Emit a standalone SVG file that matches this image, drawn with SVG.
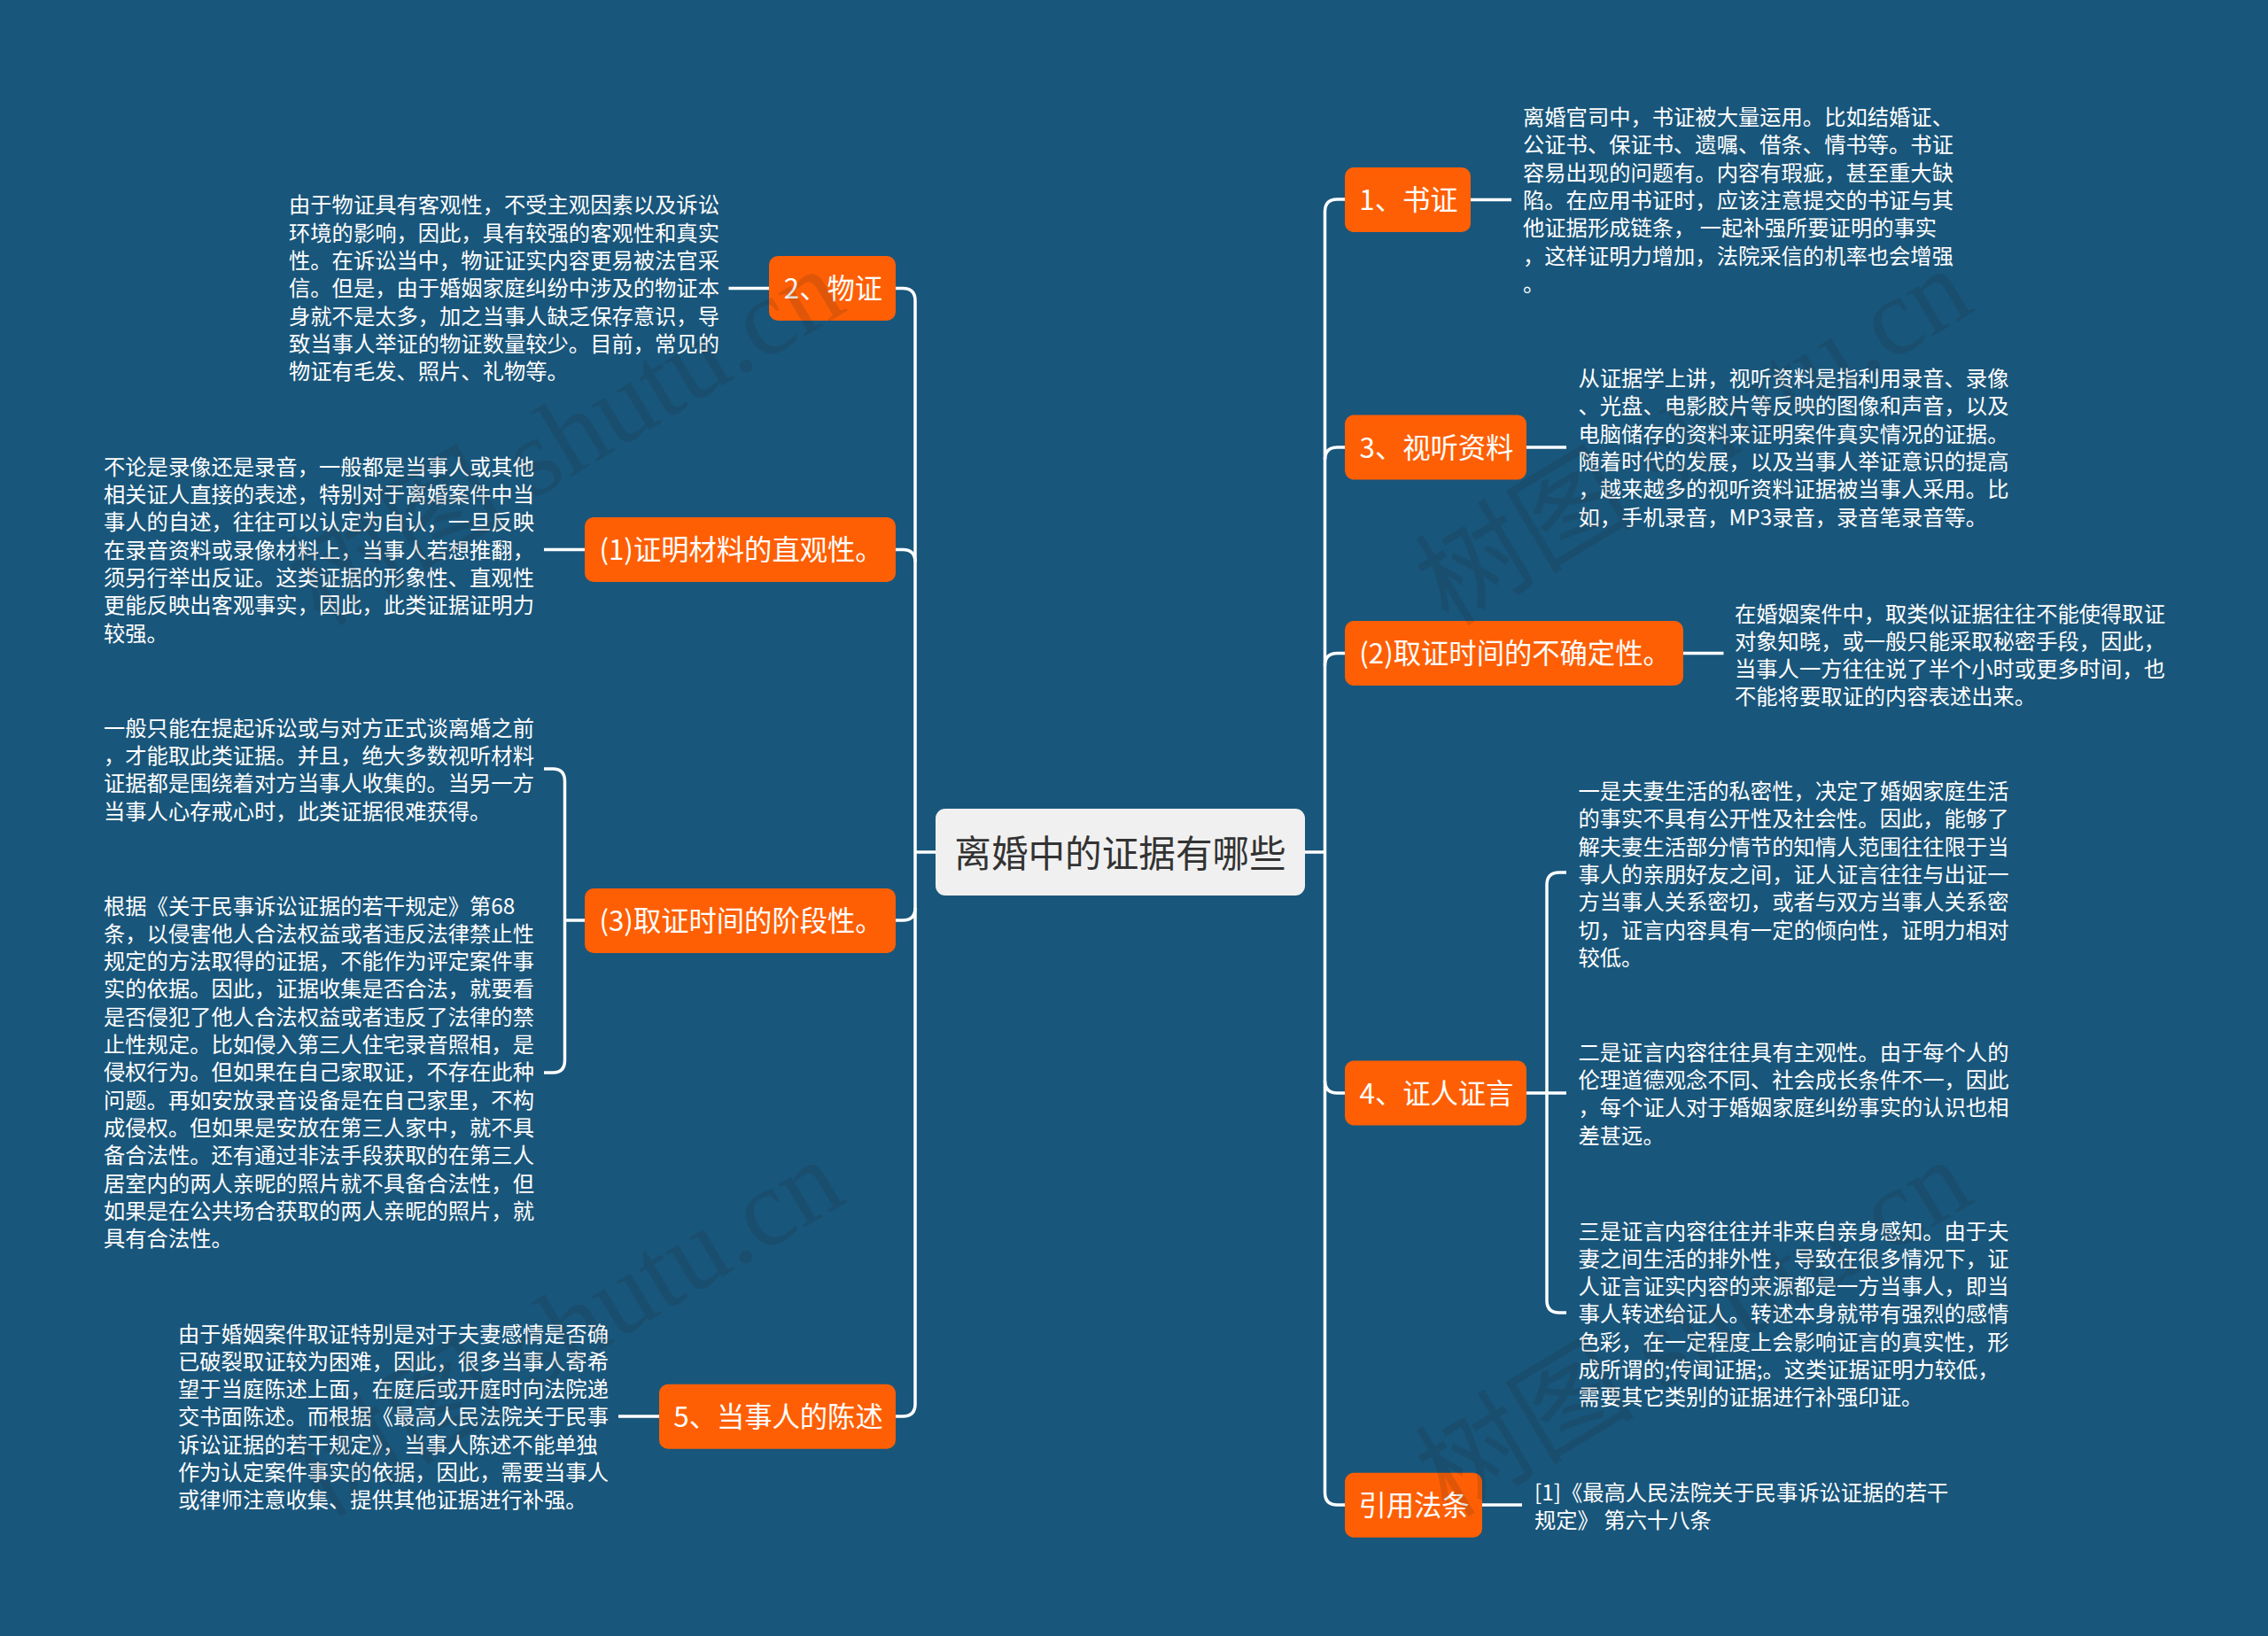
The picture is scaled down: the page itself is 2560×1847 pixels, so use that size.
<svg xmlns="http://www.w3.org/2000/svg" width="2560" height="1847" viewBox="0 0 2560 1847">
<style>
text{font-family:"Noto Sans CJK SC","Noto Sans",sans-serif}
.c{fill:none;stroke:#fff;stroke-width:3.5;stroke-linecap:butt}
.n{fill:#fe5f05}
.l{fill:#fff;font-size:31.3px;text-anchor:middle}
.d{fill:#fff;font-size:24.3px}
.w{fill:#222;fill-opacity:.14;font-size:124px;font-family:"Liberation Serif","Noto Sans CJK SC",serif}
</style>
<rect width="2560" height="1847" fill="#19567b"/>
<g id="connectors">
<path class="c" d="M1011 325.6H1019Q1033 325.6 1033 339.6V1585Q1033 1599 1019 1599H1011"/>
<path class="c" d="M1011 620.5H1019Q1033 620.5 1033 634.5"/>
<path class="c" d="M1011 1039H1019Q1033 1039 1033 1025"/>
<path class="c" d="M1056 962H1033"/>
<path class="c" d="M1473 962H1495.5"/>
<path class="c" d="M1518 225H1509.5Q1495.5 225 1495.5 239V1685Q1495.5 1699 1509.5 1699H1518"/>
<path class="c" d="M1518 505H1509.5Q1495.5 505 1495.5 519"/>
<path class="c" d="M1518 737.5H1509.5Q1495.5 737.5 1495.5 751.5"/>
<path class="c" d="M1518 1234H1509.5Q1495.5 1234 1495.5 1220"/>
<path class="c" d="M1660 225.5H1706"/>
<path class="c" d="M1723 505H1768"/>
<path class="c" d="M1900 737.5H1945.5"/>
<path class="c" d="M1723 1234H1768"/>
<path class="c" d="M1768 985H1760Q1746 985 1746 999V1468Q1746 1482 1760 1482H1768"/>
<path class="c" d="M1673 1699H1718"/>
<path class="c" d="M868 325.5H822.5"/>
<path class="c" d="M660 620.5H614"/>
<path class="c" d="M660 1039H637.5"/>
<path class="c" d="M614 868H624Q637.5 868 637.5 882V1197Q637.5 1211 624 1211H614"/>
<path class="c" d="M744 1599H698"/>
</g>
<g id="root">
<rect x="1056" y="913" width="417" height="98" rx="11" fill="#f0f0f0"/>
<text x="1264.5" y="978.5" font-size="41.6" fill="#333" text-anchor="middle">离婚中的证据有哪些</text>
</g>
<g id="n1"><rect class="n" x="1518" y="189" width="142" height="73" rx="10"/><text class="l" x="1590" y="237">1、书证</text></g>
<g id="n1t"><text class="d" x="1719" y="141"><tspan x="1719">离婚官司中，书证被大量运用。比如结婚证、</tspan><tspan x="1719" dy="31.3">公证书、保证书、遗嘱、借条、情书等。书证</tspan><tspan x="1719" dy="31.3">容易出现的问题有。内容有瑕疵，甚至重大缺</tspan><tspan x="1719" dy="31.3">陷。在应用书证时，应该注意提交的书证与其</tspan><tspan x="1719" dy="31.3">他证据形成链条， 一起补强所要证明的事实</tspan><tspan x="1719" dy="31.3">，这样证明力增加，法院采信的机率也会增强</tspan><tspan x="1719" dy="31.3">。</tspan></text></g>
<g id="n3"><rect class="n" x="1518" y="468.5" width="205" height="73" rx="10"/><text class="l" x="1621.5" y="516.5">3、视听资料</text></g>
<g id="n3t"><text class="d" x="1781.5" y="436"><tspan x="1781.5">从证据学上讲，视听资料是指利用录音、录像</tspan><tspan x="1781.5" dy="31.3">、光盘、电影胶片等反映的图像和声音，以及</tspan><tspan x="1781.5" dy="31.3">电脑储存的资料来证明案件真实情况的证据。</tspan><tspan x="1781.5" dy="31.3">随着时代的发展，以及当事人举证意识的提高</tspan><tspan x="1781.5" dy="31.3">，越来越多的视听资料证据被当事人采用。比</tspan><tspan x="1781.5" dy="31.3">如，手机录音，MP3录音，录音笔录音等。</tspan></text></g>
<g id="p2"><rect class="n" x="1518" y="701" width="382" height="73" rx="10"/><text class="l" x="1710" y="749">(2)取证时间的不确定性。</text></g>
<g id="p2t"><text class="d" x="1958" y="701.5"><tspan x="1958">在婚姻案件中，取类似证据往往不能使得取证</tspan><tspan x="1958" dy="31.1">对象知晓，或一般只能采取秘密手段，因此，</tspan><tspan x="1958" dy="31.1">当事人一方往往说了半个小时或更多时间，也</tspan><tspan x="1958" dy="31.1">不能将要取证的内容表述出来。</tspan></text></g>
<g id="n4"><rect class="n" x="1518" y="1197.5" width="205" height="73" rx="10"/><text class="l" x="1621.5" y="1245.5">4、证人证言</text></g>
<g id="n4t1"><text class="d" x="1781.5" y="902"><tspan x="1781.5">一是夫妻生活的私密性，决定了婚姻家庭生活</tspan><tspan x="1781.5" dy="31.3">的事实不具有公开性及社会性。因此，能够了</tspan><tspan x="1781.5" dy="31.3">解夫妻生活部分情节的知情人范围往往限于当</tspan><tspan x="1781.5" dy="31.3">事人的亲朋好友之间，证人证言往往与出证一</tspan><tspan x="1781.5" dy="31.3">方当事人关系密切，或者与双方当事人关系密</tspan><tspan x="1781.5" dy="31.3">切，证言内容具有一定的倾向性，证明力相对</tspan><tspan x="1781.5" dy="31.3">较低。</tspan></text></g>
<g id="n4t2"><text class="d" x="1781.5" y="1196.6"><tspan x="1781.5">二是证言内容往往具有主观性。由于每个人的</tspan><tspan x="1781.5" dy="31.3">伦理道德观念不同、社会成长条件不一，因此</tspan><tspan x="1781.5" dy="31.3">，每个证人对于婚姻家庭纠纷事实的认识也相</tspan><tspan x="1781.5" dy="31.3">差甚远。</tspan></text></g>
<g id="n4t3"><text class="d" x="1781.5" y="1398.5"><tspan x="1781.5">三是证言内容往往并非来自亲身感知。由于夫</tspan><tspan x="1781.5" dy="31.3">妻之间生活的排外性，导致在很多情况下，证</tspan><tspan x="1781.5" dy="31.3">人证言证实内容的来源都是一方当事人，即当</tspan><tspan x="1781.5" dy="31.3">事人转述给证人。转述本身就带有强烈的感情</tspan><tspan x="1781.5" dy="31.3">色彩，在一定程度上会影响证言的真实性，形</tspan><tspan x="1781.5" dy="31.3">成所谓的;传闻证据;。这类证据证明力较低，</tspan><tspan x="1781.5" dy="31.3">需要其它类别的证据进行补强印证。</tspan></text></g>
<g id="law"><rect class="n" x="1518" y="1662.7" width="155" height="73" rx="10"/><text class="l" x="1596" y="1710.5">引用法条</text></g>
<g id="lawt"><text class="d" x="1732" y="1693.6"><tspan x="1732">[1]《最高人民法院关于民事诉讼证据的若干</tspan><tspan x="1732" dy="31.3">规定》 第六十八条</tspan></text></g>
<g id="n2"><rect class="n" x="868" y="289" width="143" height="73" rx="10"/><text class="l" x="940.5" y="337">2、物证</text></g>
<g id="n2t"><text class="d" x="326" y="240.3"><tspan x="326">由于物证具有客观性，不受主观因素以及诉讼</tspan><tspan x="326" dy="31.3">环境的影响，因此，具有较强的客观性和真实</tspan><tspan x="326" dy="31.3">性。在诉讼当中，物证证实内容更易被法官采</tspan><tspan x="326" dy="31.3">信。但是，由于婚姻家庭纠纷中涉及的物证本</tspan><tspan x="326" dy="31.3">身就不是太多，加之当事人缺乏保存意识，导</tspan><tspan x="326" dy="31.3">致当事人举证的物证数量较少。目前，常见的</tspan><tspan x="326" dy="31.3">物证有毛发、照片、礼物等。</tspan></text></g>
<g id="p1"><rect class="n" x="660" y="584" width="351" height="73" rx="10"/><text class="l" x="836.5" y="632">(1)证明材料的直观性。</text></g>
<g id="p1t"><text class="d" x="117" y="535.8"><tspan x="117">不论是录像还是录音，一般都是当事人或其他</tspan><tspan x="117" dy="31.3">相关证人直接的表述，特别对于离婚案件中当</tspan><tspan x="117" dy="31.3">事人的自述，往往可以认定为自认，一旦反映</tspan><tspan x="117" dy="31.3">在录音资料或录像材料上，当事人若想推翻，</tspan><tspan x="117" dy="31.3">须另行举出反证。这类证据的形象性、直观性</tspan><tspan x="117" dy="31.3">更能反映出客观事实，因此，此类证据证明力</tspan><tspan x="117" dy="31.3">较强。</tspan></text></g>
<g id="p3"><rect class="n" x="660" y="1003" width="351" height="73" rx="10"/><text class="l" x="836.5" y="1051">(3)取证时间的阶段性。</text></g>
<g id="p3t1"><text class="d" x="117" y="830.6"><tspan x="117">一般只能在提起诉讼或与对方正式谈离婚之前</tspan><tspan x="117" dy="31.3">，才能取此类证据。并且，绝大多数视听材料</tspan><tspan x="117" dy="31.3">证据都是围绕着对方当事人收集的。当另一方</tspan><tspan x="117" dy="31.3">当事人心存戒心时，此类证据很难获得。</tspan></text></g>
<g id="p3t2"><text class="d" x="117" y="1031.5"><tspan x="117">根据《关于民事诉讼证据的若干规定》第68</tspan><tspan x="117" dy="31.3">条，以侵害他人合法权益或者违反法律禁止性</tspan><tspan x="117" dy="31.3">规定的方法取得的证据，不能作为评定案件事</tspan><tspan x="117" dy="31.3">实的依据。因此，证据收集是否合法，就要看</tspan><tspan x="117" dy="31.3">是否侵犯了他人合法权益或者违反了法律的禁</tspan><tspan x="117" dy="31.3">止性规定。比如侵入第三人住宅录音照相，是</tspan><tspan x="117" dy="31.3">侵权行为。但如果在自己家取证，不存在此种</tspan><tspan x="117" dy="31.3">问题。再如安放录音设备是在自己家里，不构</tspan><tspan x="117" dy="31.3">成侵权。但如果是安放在第三人家中，就不具</tspan><tspan x="117" dy="31.3">备合法性。还有通过非法手段获取的在第三人</tspan><tspan x="117" dy="31.3">居室内的两人亲昵的照片就不具备合法性，但</tspan><tspan x="117" dy="31.3">如果是在公共场合获取的两人亲昵的照片，就</tspan><tspan x="117" dy="31.3">具有合法性。</tspan></text></g>
<g id="n5"><rect class="n" x="744" y="1562.7" width="267" height="73" rx="10"/><text class="l" x="878.5" y="1610.5">5、当事人的陈述</text></g>
<g id="n5t"><text class="d" x="201" y="1514.5"><tspan x="201">由于婚姻案件取证特别是对于夫妻感情是否确</tspan><tspan x="201" dy="31.3">已破裂取证较为困难，因此，很多当事人寄希</tspan><tspan x="201" dy="31.3">望于当庭陈述上面，在庭后或开庭时向法院递</tspan><tspan x="201" dy="31.3">交书面陈述。而根据《最高人民法院关于民事</tspan><tspan x="201" dy="31.3">诉讼证据的若干规定》，当事人陈述不能单独</tspan><tspan x="201" dy="31.3">作为认定案件事实的依据，因此，需要当事人</tspan><tspan x="201" dy="31.3">或律师注意收集、提供其他证据进行补强。</tspan></text></g>
<g id="watermark">
<text class="w" transform="translate(362 708) rotate(-31)">树图 shutu.cn</text>
<text class="w" transform="translate(1635 708) rotate(-31)">树图 shutu.cn</text>
<text class="w" transform="translate(362 1714) rotate(-31)">树图 shutu.cn</text>
<text class="w" transform="translate(1635 1714) rotate(-31)">树图 shutu.cn</text>
</g>
</svg>
